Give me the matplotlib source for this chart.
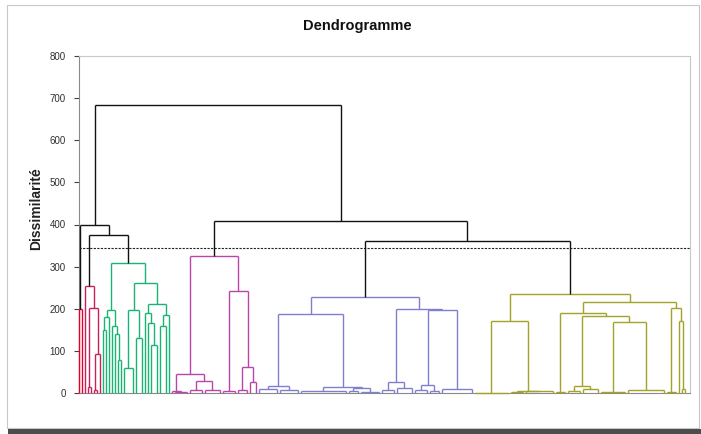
"""Dendrogramme (classification ascendante hiérarchique), 6 classes."""
import matplotlib.pyplot as plt
from matplotlib.collections import LineCollection
from matplotlib.patches import Rectangle

plt.rcParams['font.family'] = ['Liberation Sans', 'DejaVu Sans']

# tree notation: a leaf is 0, a node is (height, child, child, ...)
# --- class 1 (red)
tree_c1 = (200, 0, 0)
# --- class 2 (crimson)
tree_c2 = (254, 0, (202, (15, 0, 0), (92, (8, 0, 0), 0)))
# --- class 3 (green)
green_l = (197, (180, (150, 0, 0), 0), (159, 0, (140, 0, (78, 0, 0))))
green_ra = (197, (60, 0, 0, 0, 0), (130, 0, 0, 0))
green_rb = (211, (190, 0, (166, 0, (114, 0, 0, 0))), (185, (160, 0, 0, 0), 0))
tree_c3 = (309, green_l, (261, green_ra, green_rb))
# --- class 4 (magenta)
mag_l = (45, (4, 0, (2, *[0] * 5)), (28, (6, *[0] * 5), (8, *[0] * 6)))
mag_r = (242, (5, *[0] * 5), (62, (8, *[0] * 4), (26, 0, 0, 0)))
tree_c4 = (325, mag_l, mag_r)
# --- class 5 (blue)
blue_l = (188, (17, (10, *[0] * 7), (6, *[0] * 7)),
          (15, (4, *[0] * 16), (12, (5, *[0] * 4), (3, *[0] * 7))))
blue_r = (200, (26, (8, *[0] * 5), (12, *[0] * 6)),
          (196, (19, (6, *[0] * 5), (4, *[0] * 4)), (10, *[0] * 11)))
tree_c5 = (228, blue_l, blue_r)
# --- class 6 (olive)
olive_l = (171, (1, *[0] * 12), (5, (2, *[0] * 5), (4, *[0] * 10)))
olive_ra = (190, (2, *[0] * 4),
            (183, (17, (4, *[0] * 5), (9, *[0] * 6)),
             (168, (3, *[0] * 9), (7, *[0] * 13))))
olive_rb = (202, (3, *[0] * 4), (172, 0, (9, 0, 0)))
tree_c6 = (235, olive_l, (216, olive_ra, olive_rb))

class_trees = [tree_c1, tree_c2, tree_c3, tree_c4, tree_c5, tree_c6]
class_colors = ['#e8002d', '#c8205a', '#17b473', '#bb44aa', '#7f7fcc', '#a3a32a']

# links above the truncation level: (left id, right id, height)
# ids 0-5 are the classes, 6+ the links below in order
top_links = [
    (4, 5, 361),
    (3, 6, 408),
    (1, 2, 375),
    (0, 8, 399),
    (9, 7, 684),
]
cut_level = 344


def build(node, segs, counter):
    if node == 0:
        x = float(counter[0])
        counter[0] += 1
        return x, 0.0
    h, *kids = node
    pts = [build(k, segs, counter) for k in kids]
    xs = [p[0] for p in pts]
    for i, (x, hc) in enumerate(pts):
        # flat multi-way merges: only the outer legs and sub-clusters are drawn
        if len(pts) > 2 and 0 < i < len(pts) - 1 and kids[i] == 0:
            continue
        segs.append([(x, hc), (x, h)])
    segs.append([(min(xs), h), (max(xs), h)])
    return sum(xs) / len(xs), h


fig = plt.figure(figsize=(7.01, 4.34), dpi=100)
ax = fig.add_axes([79 / 701, 41 / 434, 611 / 701, 337 / 434])

counter = [0]
tops = []
for tree, col in zip(class_trees, class_colors):
    segs = []
    tops.append(build(tree, segs, counter))
    ax.add_collection(LineCollection(segs, colors=col, linewidths=1.0,
                                     zorder=3, clip_on=False))

black = []
for l, r, h in top_links:
    (xl, hl), (xr, hr) = tops[l], tops[r]
    black += [[(xl, hl), (xl, h)], [(xr, hr), (xr, h)], [(xl, h), (xr, h)]]
    tops.append(((xl + xr) / 2, h))
ax.add_collection(LineCollection(black, colors='#111111', linewidths=1.0,
                                 zorder=3, clip_on=False))

n_leaves = counter[0]
ax.axhline(cut_level, color='#222222', lw=0.8, ls=(0, (2, 1.2)), zorder=2)

ax.set_xlim(0, n_leaves + 0.7)
ax.set_ylim(0, 800)
ax.set_yticks(range(0, 801, 100))
ax.set_xticks([])
ax.tick_params(axis='y', length=3.5, width=0.8, pad=6, labelsize=7,
               colors='#404040', labelcolor='#303030')
for side in ['top', 'right']:
    ax.spines[side].set_color('#c8c8c8')
for side in ['left', 'bottom']:
    ax.spines[side].set_color('#8a8a8a')
for sp in ax.spines.values():
    sp.set_linewidth(0.8)

fig.text(357 / 701, 1 - 26 / 434, 'Dendrogramme', ha='center', va='center',
         fontsize=10.5, weight='bold', color='#111111')
fig.text(36 / 701, 1 - 209 / 434, 'Dissimilarité', ha='center', va='center',
         rotation=90, fontsize=10, weight='bold', color='#222222')

# chart frame and bottom shadow
fig.add_artist(Rectangle((7 / 701, 6 / 434), 692 / 701, 423 / 434,
                         transform=fig.transFigure, fill=False,
                         ec='#c8c8c8', lw=0.8))
fig.add_artist(Rectangle((8 / 701, 0), 1, 5 / 434, transform=fig.transFigure,
                         fc='#4d4d4d', ec='none'))

fig.savefig('out.png', dpi=100)
